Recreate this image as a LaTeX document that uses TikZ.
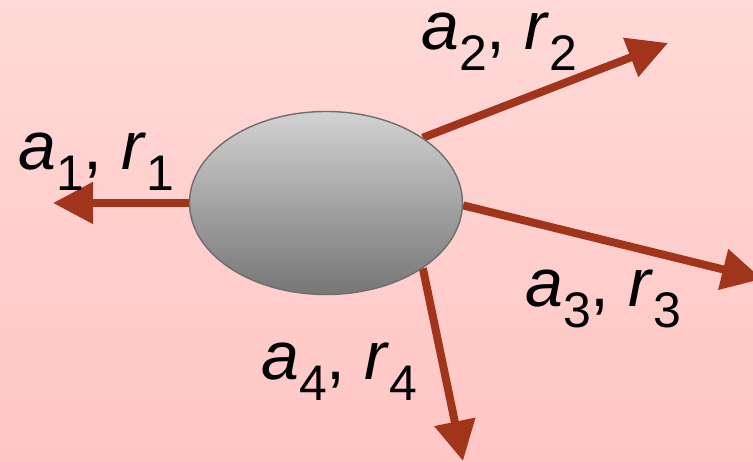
\documentclass[tikz,border=0pt]{standalone}
\usepackage{fontspec}
\setmainfont{Liberation Sans}
\usepackage{tikz}
\usetikzlibrary{arrows.meta,shapes.geometric,backgrounds}
\definecolor{bgtop}{HTML}{FFD9D7}
\definecolor{bgbot}{HTML}{FFC6C4}
\definecolor{arrred}{HTML}{A0351C}
\definecolor{blobtop}{HTML}{D2D2D2}
\definecolor{blobbot}{HTML}{767676}
\definecolor{blobedge}{HTML}{6E6E6E}
\newcommand{\subnum}[1]{\raisebox{-21pt}{\fontsize{50}{50}\selectfont #1}}
\newcommand{\actrew}[1]{\textit{a}\subnum{#1}, \textit{r}\subnum{#1}}

\begin{document}
\begin{tikzpicture}[
  x=1pt, y=-1pt,
  arr/.style={-{Triangle[length=40pt,width=40pt]}, line width=8pt, draw=arrred},
  lbl/.style={anchor=base west, inner sep=0pt, text height=38pt, text depth=22pt,
              font=\fontsize{68}{80}\selectfont}
]
  \useasboundingbox (0,0) rectangle (753,462);
  \begin{scope}[on background layer]
    \shade[top color=bgtop, bottom color=bgbot] (0,0) rectangle (753,462);
  \end{scope}

  \node[ellipse, draw=blobedge, line width=1.4pt, top color=blobtop, bottom color=blobbot,
        minimum width=273pt, minimum height=183pt, inner sep=0pt] (blob) at (326,203) {};

  % arrow tips
  \coordinate (t1) at (53,203);
  \coordinate (t2) at (668,43);
  \coordinate (t3) at (762,279);
  \coordinate (t4) at (463,461);

  \begin{scope}[on background layer]
    \draw[arr] (blob.180) -- (t1);
    \draw[arr] (blob.34) -- (t2);
    \draw[arr] (blob.-1) -- (t3);
    \draw[arr] (blob.-34) -- (t4);
  \end{scope}

  \node[lbl] (l1) at (18,170) {\actrew{1}};
  \node[lbl] (l2) at (421,50) {\actrew{2}};
  \node[lbl] (l3) at (525,307) {\actrew{3}};
  \node[lbl] (l4) at (261,380) {\actrew{4}};
\end{tikzpicture}
\end{document}
